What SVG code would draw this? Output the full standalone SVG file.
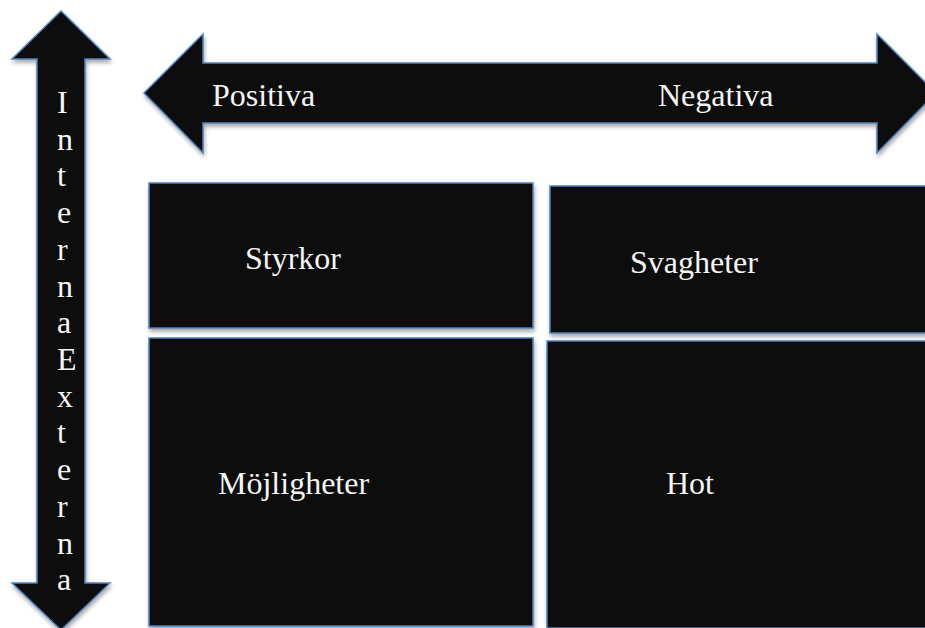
<svg xmlns="http://www.w3.org/2000/svg" width="925" height="628" viewBox="0 0 925 628">
<defs>
<filter id="sh" x="-10%" y="-10%" width="120%" height="120%">
<feGaussianBlur in="SourceAlpha" stdDeviation="2"/>
<feOffset dx="1" dy="3" result="b"/>
<feComponentTransfer><feFuncA type="linear" slope="0.35"/></feComponentTransfer>
<feMerge><feMergeNode/><feMergeNode in="SourceGraphic"/></feMerge>
</filter>
</defs>
<style>
.shape{fill:#0e0e0e;stroke:#4f81bd;stroke-width:1.5;filter:url(#sh)}
.lbl{font-family:"Liberation Serif","Times New Roman",serif;font-size:32px;fill:#f5f5f5}
</style>
<rect width="925" height="628" fill="#ffffff"/>
<g id="arrow-vertical">
<path class="shape" d="M61,11 L110,59 L85,59 L85,583 L110,583 L61,630 L12,583 L37,583 L37,59 L12,59 Z"/>
<text class="lbl" x="57"><tspan x="57" y="113">I</tspan><tspan x="57" y="150">n</tspan><tspan x="57" y="186">t</tspan><tspan x="57" y="223">e</tspan><tspan x="57" y="260">r</tspan><tspan x="57" y="297">n</tspan><tspan x="57" y="333">a</tspan><tspan x="57" y="370">E</tspan><tspan x="57" y="407">x</tspan><tspan x="57" y="443">t</tspan><tspan x="57" y="480">e</tspan><tspan x="57" y="517">r</tspan><tspan x="57" y="554">n</tspan><tspan x="57" y="590">a</tspan></text>
</g>
<g id="arrow-horizontal">
<path class="shape" d="M144,93 L203,34 L203,63 L877,63 L877,34 L936,93 L877,153 L877,123 L203,123 L203,153 Z"/>
<text class="lbl" x="212" y="106">Positiva</text>
<text class="lbl" x="658" y="106">Negativa</text>
</g>
<g id="styrkor">
<rect class="shape" x="149" y="183" width="384" height="145"/>
<text class="lbl" x="245" y="269">Styrkor</text>
</g>
<g id="svagheter">
<rect class="shape" x="550" y="186" width="390" height="147"/>
<text class="lbl" x="630" y="273">Svagheter</text>
</g>
<g id="mojligheter">
<rect class="shape" x="149" y="338" width="384" height="288"/>
<text class="lbl" x="218" y="494">Möjligheter</text>
</g>
<g id="hot">
<rect class="shape" x="547" y="341" width="393" height="287"/>
<text class="lbl" x="666" y="494">Hot</text>
</g>
<g id="connectors"/>
</svg>
